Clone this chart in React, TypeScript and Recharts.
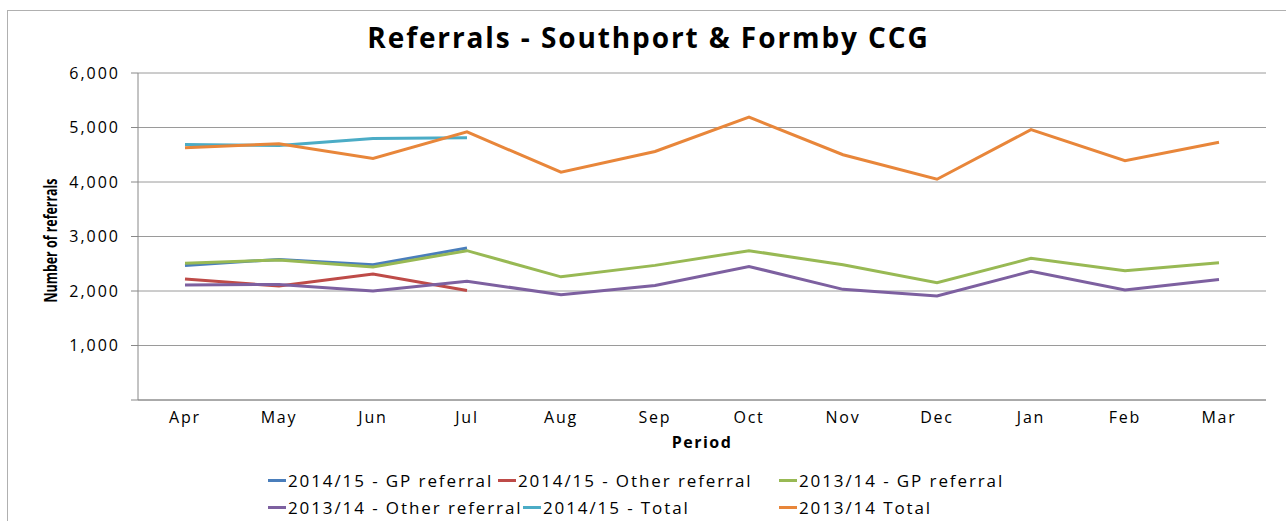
import React from "react";
import {
  LineChart,
  Line,
  XAxis,
  YAxis,
  CartesianGrid,
} from "recharts";

const months = ["Apr", "May", "Jun", "Jul", "Aug", "Sep", "Oct", "Nov", "Dec", "Jan", "Feb", "Mar"];

const gp1415 = [2470, 2580, 2480, 2790];
const other1415 = [2220, 2090, 2310, 2010];
const gp1314 = [2510, 2570, 2440, 2740, 2260, 2470, 2740, 2480, 2150, 2600, 2370, 2520];
const other1314 = [2110, 2120, 2000, 2180, 1930, 2100, 2450, 2030, 1910, 2360, 2020, 2210];
const total1415 = [4690, 4670, 4800, 4810];
const total1314 = [4630, 4700, 4430, 4920, 4180, 4560, 5190, 4500, 4050, 4960, 4390, 4730];

const yTicks = [0, 1000, 2000, 3000, 4000, 5000, 6000];
const boundaryTicks = [0, 1, 2, 3, 4, 5, 6, 7, 8, 9, 10, 11, 12];

const SERIES = [
  { key: "gp1415", name: "2014/15 - GP referral", color: "#4A7EBB", values: gp1415 },
  { key: "other1415", name: "2014/15 - Other referral", color: "#BE4B48", values: other1415 },
  { key: "gp1314", name: "2013/14 - GP referral", color: "#98B954", values: gp1314 },
  { key: "other1314", name: "2013/14 - Other referral", color: "#7D60A0", values: other1314 },
  { key: "total1415", name: "2014/15 - Total", color: "#4BACC6", values: total1415 },
  { key: "total1314", name: "2013/14 Total", color: "#E8863A", values: total1314 },
];

const data = months.map((month, i) => {
  const row: Record<string, string | number | null> = { month };
  SERIES.forEach((s) => {
    row[s.key] = s.values[i] ?? null;
  });
  return row;
});

const FONT = "'Open Sans', 'DejaVu Sans', sans-serif";

// excel puts legend entries in a loose grid, two rows
const legendRows = [
  [0, 1, 2],
  [3, 4, 5],
];
const legendWidths = [
  [230, 281, 230],
  [255, 256, 230],
];

function Legend2() {
  return (
    <div style={{ position: "absolute", left: 268, top: 467, fontFamily: FONT, fontSize: 17, color: "#000" }}>
      {legendRows.map((row, r) => (
        <div key={r} style={{ display: "flex", height: 27, alignItems: "center" }}>
          {row.map((idx, c) => (
            <div key={idx} style={{ width: legendWidths[r][c], display: "flex", alignItems: "center" }}>
              <span style={{ display: "inline-block", width: 18, height: 3, background: SERIES[idx].color, marginRight: 2 }} />
              <span style={{ letterSpacing: 1.9, whiteSpace: "nowrap" }}>{SERIES[idx].name}</span>
            </div>
          ))}
        </div>
      ))}
    </div>
  );
}

// narrow bold axis title, squeezed along the text direction like the original
function YTitle(props: { viewBox?: { x: number; y: number; width: number; height: number } }) {
  const vb = props.viewBox ?? { x: 0, y: 73, width: 138, height: 327 };
  const cy = vb.y + vb.height / 2 + 4;
  return (
    <text
      transform={`translate(57, ${cy}) rotate(-90) scale(0.73, 1)`}
      textAnchor="middle"
      fontFamily={FONT}
      fontSize={17}
      fontWeight={700}
      fill="#000"
    >
      Number of referrals
    </text>
  );
}

export default function App() {
  return (
    <div style={{ position: "absolute", left: 0, top: 0, width: 1286, height: 521, overflow: "hidden", background: "#fff" }}>
      <div style={{ position: "absolute", left: 7, top: 10, width: 1290, height: 530, border: "1px solid #b0b0b0" }} />
      <div
        style={{
          position: "absolute",
          left: 7,
          top: 18,
          width: 1283,
          textAlign: "center",
          fontFamily: FONT,
          fontWeight: 700,
          fontSize: 28,
          letterSpacing: 1.9,
          color: "#000",
        }}
      >
        Referrals - Southport &amp; Formby CCG
      </div>
      <div style={{ position: "absolute", left: 0, top: 0 }}>
        <LineChart width={1286} height={521} data={data} margin={{ top: 73, right: 20, left: 0, bottom: 61 }}>
          <CartesianGrid horizontal vertical={false} stroke="#9a9a9a" strokeWidth={1} xAxisId="m" />
          <XAxis
            xAxisId="t"
            type="number"
            domain={[0, 12]}
            ticks={boundaryTicks}
            allowDataOverflow
            tick={false}
            tickSize={5}
            tickLine={{ stroke: "#888" }}
            axisLine={false}
            height={0}
          />
          <XAxis
            xAxisId="m"
            dataKey="month"
            scale="band"
            tickLine={false}
            axisLine={{ stroke: "#888" }}
            tick={{ fill: "#000", fontSize: 16, fontFamily: FONT, letterSpacing: 1.8 }}
            tickMargin={6}
            height={60}
            interval={0}
            label={{ value: "Period", position: "insideBottom", offset: 12, fill: "#000", fontSize: 16, fontWeight: 700, fontFamily: FONT, letterSpacing: 1.5 }}
          />
          <YAxis
            domain={[0, 6000]}
            ticks={yTicks}
            width={138}
            tickSize={7}
            tickMargin={11}
            tickLine={{ stroke: "#888" }}
            axisLine={{ stroke: "#888" }}
            tick={{ fill: "#000", fontSize: 16, fontFamily: FONT, letterSpacing: 2 }}
            tickFormatter={(v: number) => (v === 0 ? "" : v.toLocaleString("en-US"))}
            label={{ content: (p: any) => <YTitle viewBox={p.viewBox} /> }}
          />
          {SERIES.map((s) => (
            <Line
              key={s.key}
              xAxisId="m"
              type="linear"
              dataKey={s.key}
              name={s.name}
              stroke={s.color}
              strokeWidth={3}
              dot={false}
              activeDot={false}
              connectNulls={false}
              isAnimationActive={false}
            />
          ))}
        </LineChart>
      </div>
      <Legend2 />
    </div>
  );
}
